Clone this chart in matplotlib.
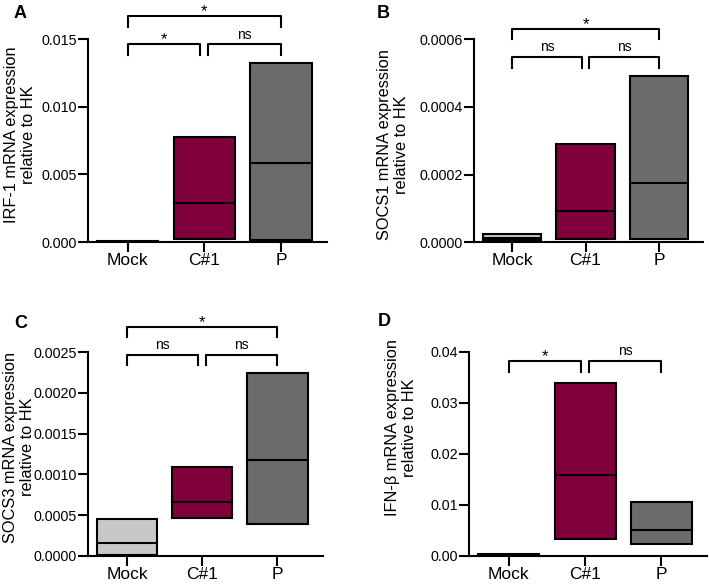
import matplotlib
matplotlib.use("Agg")
import matplotlib.pyplot as plt
from matplotlib import font_manager

plt.rcParams['font.family'] = ['Liberation Sans', 'DejaVu Sans']

# tick labels in the original are narrow and tall
names = set(f.name for f in font_manager.fontManager.ttflist)
if 'Liberation Sans Narrow' in names:
    tick_font, tick_size = 'Liberation Sans Narrow', 12.5
else:
    tick_font, tick_size = 'Liberation Sans', 10.3

groups = ['Mock', 'C#1', 'P']
colors = ['#c8c8c8', '#80003c', '#6b6b6b']

# min, median, max for each group
irf1_min = [0.0, 0.00024, 0.00015]
irf1_med = [0.00002, 0.00288, 0.00584]
irf1_max = [0.00005, 0.00776, 0.01325]

socs1_min = [0.000008, 0.00001, 0.00001]
socs1_med = [0.000013, 0.0000925, 0.000174]
socs1_max = [0.000024, 0.00029, 0.000492]

socs3_min = [0.00001, 0.000467, 0.000386]
socs3_med = [0.00016, 0.000656, 0.001176]
socs3_max = [0.000447, 0.001094, 0.002242]

ifnb_min = [0.0001, 0.00322, 0.0023]
ifnb_med = [0.0002, 0.0158, 0.00504]
ifnb_max = [0.0003, 0.0338, 0.01047]

# significance brackets: (left group, right group, y, tick drop, label)
brk_a = [(0, 2, 0.01672, 0.00083, '*'), (0, 0.95, 0.01461, 0.0008, '*'), (1.05, 2, 0.01461, 0.0008, 'ns')]
brk_b = [(0, 2, 0.00063, 0.00003, '*'), (0, 0.95, 0.000547, 0.000032, 'ns'), (1.05, 2, 0.000547, 0.000032, 'ns')]
brk_c = [(0, 2, 0.002815, 0.000122, '*'), (0, 0.95, 0.002467, 0.000123, 'ns'), (1.05, 2, 0.002467, 0.000123, 'ns')]
brk_d = [(0, 0.95, 0.03824, 0.00214, '*'), (1.05, 2, 0.03824, 0.00214, 'ns')]

panels = [
    ('A', [0.124, 0.5863, 0.337, 0.347], irf1_min, irf1_med, irf1_max, 0.015, [0, 0.005, 0.010, 0.015], '%.3f',
     'IRF-1 mRNA expression\nrelative to HK', brk_a, (14, 13), (20, 135)),
    ('B', [0.6685, 0.5858, 0.323, 0.3475], socs1_min, socs1_med, socs1_max, 0.0006, [0, 0.0002, 0.0004, 0.0006], '%.4f',
     'SOCS1 mRNA expression\nrelative to HK', brk_b, (377, 13), (393, 145)),
    ('C', [0.124, 0.050, 0.331, 0.3478], socs3_min, socs3_med, socs3_max, 0.0025,
     [0, 0.0005, 0.0010, 0.0015, 0.0020, 0.0025], '%.4f',
     'SOCS3 mRNA expression\nrelative to HK', brk_c, (14, 323), (19, 447)),
    ('D', [0.6615, 0.050, 0.336, 0.3488], ifnb_min, ifnb_med, ifnb_max, 0.04, [0, 0.01, 0.02, 0.03, 0.04], '%.2f',
     'IFN-β mRNA expression\nrelative to HK', brk_d, (378, 322), (401, 428)),
]

fig = plt.figure(figsize=(7.09, 5.85), dpi=100)

for letter, rect, lo, med, hi, ytop, yt, fmt, ylab, brks, lpos, ypos in panels:
    ax = fig.add_axes(rect)
    x = range(len(groups))
    heights = [h - l for h, l in zip(hi, lo)]
    ax.bar(x, heights, bottom=lo, width=0.8, color=colors, edgecolor='black', linewidth=1.5, zorder=2)
    for i in x:
        ax.plot([i - 0.4, i + 0.4], [med[i], med[i]], color='black', lw=1.5, zorder=3)
    ax.set_xlim(-0.52, 2.6)
    ax.set_ylim(0, ytop)
    ax.set_yticks(yt)
    ax.set_yticklabels([fmt % v for v in yt], family=tick_font, fontsize=tick_size)
    ax.set_xticks(list(x))
    ax.set_xticklabels(groups, fontsize=12.5)
    ax.tick_params(axis='y', width=1.5, length=7, direction='out', pad=1)
    ax.tick_params(axis='x', width=1.5, length=7, direction='out', pad=1)
    ax.spines['top'].set_visible(False)
    ax.spines['right'].set_visible(False)
    ax.spines['left'].set_linewidth(1.5)
    ax.spines['bottom'].set_linewidth(1.5)
    for g1, g2, yb, drop, lab in brks:
        ax.plot([g1, g1, g2, g2], [yb - drop, yb, yb, yb - drop], color='black', lw=1.5, clip_on=False)
        off = 0 if lab == '*' else 4
        size = 12 if lab == '*' else 10
        ax.annotate(lab, xy=((g1 + g2) / 2, yb), xytext=(0, off), textcoords='offset points',
                    ha='center', va='baseline', fontsize=size, annotation_clip=False)
    fig.text(lpos[0] / 709, 1 - lpos[1] / 585, letter, fontsize=13, fontweight='bold', ha='left', va='center')
    fig.text(ypos[0] / 709, 1 - ypos[1] / 585, ylab, fontsize=11.8, rotation=90, ha='center', va='center',
             multialignment='center', linespacing=1.1)

fig.savefig('out.png', dpi=100)
